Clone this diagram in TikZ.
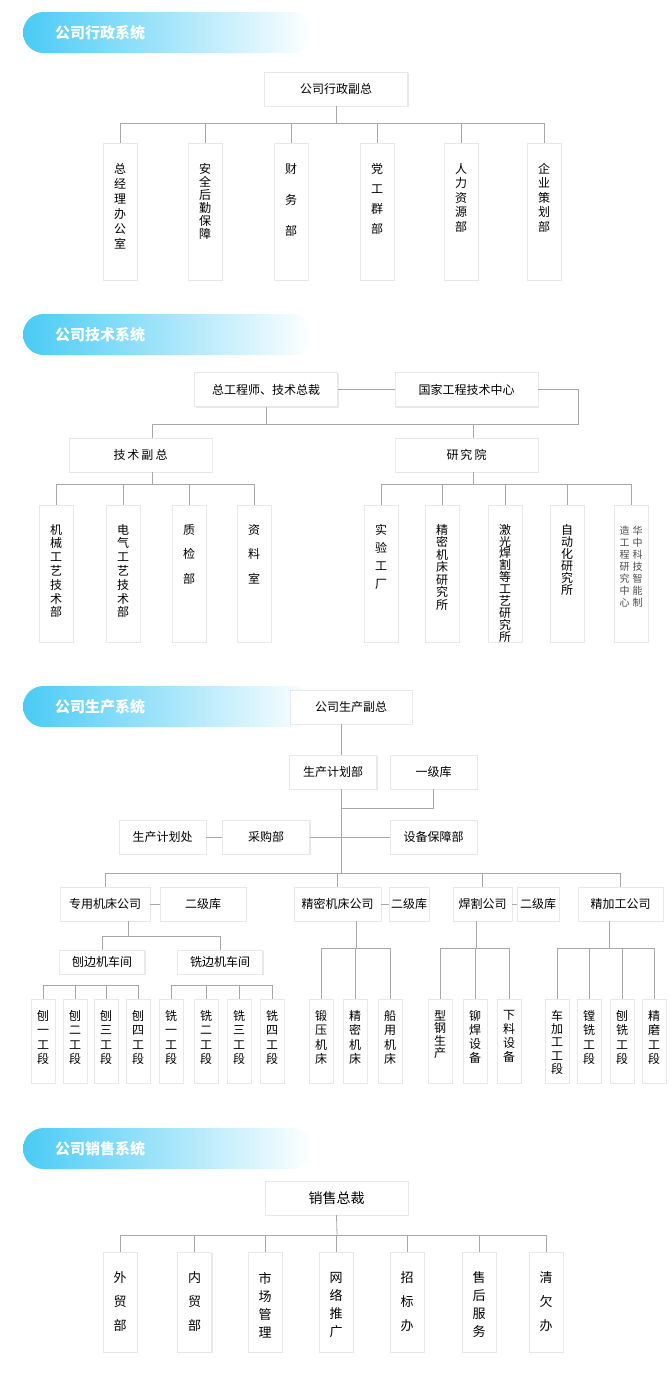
\documentclass[tikz,border=0pt]{standalone}
\usepackage{fontspec}
\setmainfont{Noto Sans CJK SC}
\usetikzlibrary{shadows}

\definecolor{bannerblue}{RGB}{74,203,245}
\definecolor{wiregray}{RGB}{168,168,168}

\tikzset{
  box/.style = {draw = black!9, fill = white, inner sep = 0pt,
    drop shadow = {shadow xshift = 1.4pt, shadow yshift = -1.4pt, fill = black!9, opacity = 1},
    drop shadow = {shadow xshift = .7pt, shadow yshift = -.7pt, fill = black!16, opacity = 1},
    font = \fontsize{12}{14}\selectfont},
  head/.style = {box, minimum width = 143pt, minimum height = 34pt},
  mid/.style = {box, minimum width = #1, minimum height = 34pt},
  mid/.default = 87pt,
  shop/.style = {box, minimum width = 85pt, minimum height = 24pt},
  % column box: height, font size, line distance, top gap
  vcol/.style n args = {4}{box, minimum width = 34pt,
    execute at begin node = {\begin{minipage}[c][#1pt][t]{24pt}\centering
      \fontsize{#2}{#3}\selectfont\vspace*{#4pt}},
    execute at end node = {\end{minipage}}},
  xzcol/.style = {vcol = {137}{12}{#1}{20}},
  jscol/.style = {vcol = {137}{12}{#1}{19}},
  gdcol/.style = {vcol = {84}{12}{#1}{11}, minimum width = 24pt},
  xscol/.style = {vcol = {100}{13}{#1}{20}},
  wire/.style = {draw = wiregray, line width = .8pt},
  bantext/.style = {text = white, anchor = west, inner sep = 0pt,
    font = \fontsize{15}{18}\selectfont\bfseries}
}

\begin{document}
\begin{tikzpicture}
        [x = 1pt, y = -1pt]

        \useasboundingbox (0,0) rectangle (670,1390);

        % section banners
        \foreach \y/\t [count = \i] in {12/公司行政系统, 314/公司技术系统, 686/公司生产系统, 1128/公司销售系统}
        {
          \shade[left color = bannerblue, right color = white, rounded corners = 20.5pt]
            (23,\y) rectangle ++(290,41);
          \node[bantext] (title\i) at (55,\y+21) {\t};
        }

        % administration
        \node[head] (xzfz) at (336,89) {公司行政副总};
        \coordinate (xzbus) at (336,123);
        \draw[wire] (xzfz.south) -- (xzbus);
        \foreach \x/\t/\s [count = \i] in {120/{总\\经\\理\\办\\公\\室}/15, 205/{安\\全\\后\\勤\\保\\障}/13,
            291/{财\\务\\部}/31, 377/{党\\工\\群\\部}/20, 461/{人\\力\\资\\源\\部}/14.5,
            544/{企\\业\\策\\划\\部}/14.5}
        {
          \node[xzcol = \s] (xz\i) at (\x,211.5) {\t};
          \draw[wire] (xzbus) -| (xz\i.north);
        }

        % technology
        \node[head] (zgs) at (266,389.5) {总工程师、技术总裁};
        \node[head] (gjzx) at (466.5,389.5) {国家工程技术中心};
        \node[head] (jsfz) at (140.5,455) {技\,术\,副\,总};
        \node[head] (yjy) at (466.5,455) {研\,究\,院};
        \coordinate (jsbus) at (266,424);
        \coordinate (fzbus) at (152,484);
        \coordinate (yjbus) at (473,484);
        \draw[wire] (zgs) -- (gjzx);
        \draw[wire] (zgs.south) -- (jsbus);
        \draw[wire] (gjzx.east) -- ++(40,0) |- (jsbus);
        \draw[wire] (jsbus) -| (fzbus |- jsfz.north);
        \draw[wire] (jsbus) -| (yjbus |- yjy.north);
        \draw[wire] (fzbus |- jsfz.south) -- (fzbus);
        \draw[wire] (yjbus |- yjy.south) -- (yjbus);
        \foreach \x/\t/\s [count = \i] in {56/{机\\械\\工\\艺\\技\\术\\部}/13.8, 123/{电\\气\\工\\艺\\技\\术\\部}/13.8,
            189/{质\\检\\部}/24.5, 254/{资\\料\\室}/24.5}
        {
          \node[jscol = \s] (jsb\i) at (\x,573.5) {\t};
          \draw[wire] (fzbus) -| (jsb\i.north);
        }
        \foreach \x/\t/\s [count = \i] in {381/{实\\验\\工\\厂}/18, 442/{精\\密\\机\\床\\研\\究\\所}/12.5,
            505/{激\\光\\焊\\割\\等\\工\\艺\\研\\究\\所}/11.9, 567/{自\\动\\化\\研\\究\\所}/12}
        {
          \node[jscol = \s] (yjs\i) at (\x,573.5) {\t};
          \draw[wire] (yjbus) -| (yjs\i.north);
        }
        \node[vcol = {137}{10}{12}{21}, text = black!70] (yjs5) at (631,573.5)
          {造\hspace{3pt}华\\工\hspace{3pt}中\\程\hspace{3pt}科\\研\hspace{3pt}技\\究\hspace{3pt}智\\中\hspace{3pt}能\\心\hspace{3pt}制};
        \draw[wire] (yjbus) -| (yjs5.north);

        % production
        \node[mid = 122pt] (scfz) at (351,707) {公司生产副总};
        \node[mid] (jhb) at (333,772) {生产计划部};
        \node[mid] (yjk) at (433.5,772) {一级库};
        \node[mid] (jhc) at (162.5,837) {生产计划处};
        \node[mid] (cgb) at (266,837) {采购部};
        \node[mid] (sbb) at (433.5,837) {设备保障部};
        \coordinate (yjjoin) at (341,808);
        \coordinate (cbus) at (341,873);
        \draw[wire] ([xshift = -10pt]scfz.south) -- ([xshift = 8pt]jhb.north);
        \draw[wire] ([xshift = 8pt]jhb.south) -- (cbus);
        \draw[wire] (yjk.south) |- (yjjoin);
        \draw[wire] (jhc) -- (cgb);
        \draw[wire] (cgb) -- (sbb);

        \node[mid = 90pt] (zyjc) at (105,904) {专用机床公司};
        \node[mid = 86pt] (ejk1) at (203,904) {二级库};
        \node[mid = 87pt] (jmjc) at (337.5,904) {精密机床公司};
        \node[mid = 40pt] (ejk2) at (409,904) {二级库};
        \node[mid = 59pt] (hggs) at (482.5,904) {焊割公司};
        \node[mid = 42pt] (ejk3) at (538,904) {二级库};
        \node[mid = 85pt] (jjgs) at (620.5,904) {精加工公司};
        \foreach \n in {zyjc, jmjc, hggs, jjgs}
          \draw[wire] (cbus) -| (\n.north);
        \draw[wire] (zyjc) -- (ejk1);
        \draw[wire] (jmjc) -- (ejk2);
        \draw[wire] (hggs) -- (ejk3);

        \node[shop] (bbcj) at (102,962) {刨边机车间};
        \node[shop] (xbcj) at (220,962) {铣边机车间};
        \coordinate (zybus) at (128,936);
        \draw[wire] (zybus |- zyjc.south) -- (zybus);
        \draw[wire] (zybus) -| (bbcj.north);
        \draw[wire] (zybus) -| (xbcj.north);

        \coordinate (bbrow) at (91,985);
        \coordinate (xbrow) at (222,985);
        \foreach \x/\t [count = \i] in {43/一, 75/二, 106/三, 138/四}
        {
          \node[gdcol = 14.5] (bd\i) at (\x,1041) {刨\\\t\\工\\段};
          \draw[wire] (bbrow) -| (bd\i.north);
        }
        \foreach \x/\t [count = \i] in {171/一, 206/二, 239/三, 272/四}
        {
          \node[gdcol = 14.5] (xd\i) at (\x,1041) {铣\\\t\\工\\段};
          \draw[wire] (xbrow) -| (xd\i.north);
        }

        \coordinate (jmbus) at (356,948);
        \draw[wire] (jmbus |- jmjc.south) -- (jmbus);
        \foreach \x/\t [count = \i] in {321/{锻\\压\\机\\床}, 355/{精\\密\\机\\床}, 390/{船\\用\\机\\床}}
        {
          \node[gdcol = 14.5] (jm\i) at (\x,1041) {\t};
          \draw[wire] (jmbus) -| (jm\i.north);
        }
        \coordinate (hgbus) at (476,948);
        \draw[wire] (hgbus |- hggs.south) -- (hgbus);
        \foreach \x/\t/\s [count = \i] in {440/{型\\钢\\生\\产}/12.5, 475/{铆\\焊\\设\\备}/14, 509/{下\\料\\设\\备}/14}
        {
          \node[gdcol = \s] (hg\i) at (\x,1041) {\t};
          \draw[wire] (hgbus) -| (hg\i.north);
        }
        \coordinate (jjbus) at (609,948);
        \draw[wire] (jjbus |- jjgs.south) -- (jjbus);
        \foreach \x/\t/\s [count = \i] in {557/{车\\加\\工\\工\\段}/13.3, 589/{镗\\铣\\工\\段}/14.5,
            622/{刨\\铣\\工\\段}/14.5, 654/{精\\磨\\工\\段}/14.5}
        {
          \node[gdcol = \s] (jj\i) at (\x,1041) {\t};
          \draw[wire] (jjbus) -| (jj\i.north);
        }

        % sales
        \node[head, font = \fontsize{14}{16}\selectfont] (xszc) at (336.5,1198) {销售总裁};
        \coordinate (xsbus) at (337,1235);
        \draw[wire] (xszc.south) -- (xsbus);
        \foreach \x/\t/\s [count = \i] in {120/{外\\贸\\部}/24, 194.5/{内\\贸\\部}/24, 265/{市\\场\\管\\理}/18,
            336/{网\\络\\推\\广}/18, 407/{招\\标\\办}/24, 479/{售\\后\\服\\务}/18, 546/{清\\欠\\办}/24}
        {
          \node[xscol = \s] (xs\i) at (\x,1302) {\t};
          \draw[wire] (xsbus) -| (xs\i.north);
        }
      \end{tikzpicture}
\end{document}
